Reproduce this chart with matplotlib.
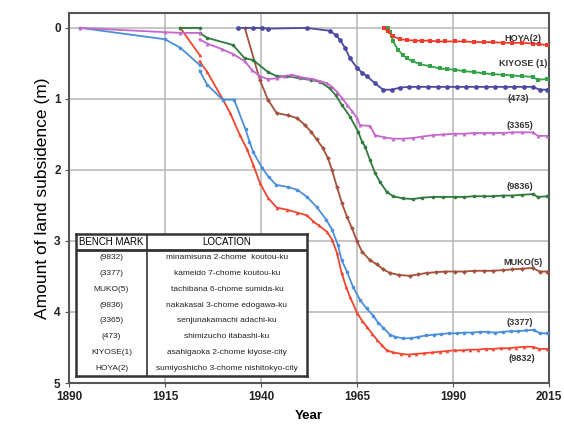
import numpy as np
import matplotlib
matplotlib.use("Agg")
import matplotlib.pyplot as plt

nan = np.nan

# (3377) blue
yr_3377 = [1893, 1915, 1919, 1924, nan, 1924, 1926, 1930, 1933, 1936, 1937, 1938, 1940.3, 1942,
           1944, 1947, 1949.5, 1952, 1954.5, 1957, 1958.5, 1960, 1961, 1962.4, 1964, 1965.8,
           1967.5, 1969.2, 1970.5, 1971.8, 1973.6, 1975, 1977, 1979, 1981, 1983, 1985, 1987,
           1989, 1991, 1993, 1995, 1997, 1999, 2001, 2003, 2005, 2007, 2009, 2011, 2012.6, 2014.5]
d_3377 = [0, 0.16, 0.28, 0.52, nan, 0.60, 0.80, 1.01, 1.01, 1.43, 1.6, 1.75, 1.97, 2.10,
          2.21, 2.24, 2.28, 2.38, 2.52, 2.70, 2.84, 3.05, 3.27, 3.43, 3.65, 3.83,
          3.95, 4.05, 4.15, 4.22, 4.32, 4.35, 4.37, 4.37, 4.35, 4.33, 4.32, 4.31,
          4.30, 4.30, 4.29, 4.29, 4.28, 4.28, 4.29, 4.28, 4.27, 4.27, 4.26, 4.25, 4.30, 4.30]

# (9832) red
yr_9832 = [1919, 1924, nan, 1924, 1926, 1930, 1932, 1934.5, 1936.3, 1938, 1939.7, 1941.8, 1944.1,
           1946.8, 1949.4, 1952, 1953.5, 1955, 1957.2, 1958.5, 1959.8, 1961, 1962.2, 1963.2, 1965,
           1966.3, 1967.6, 1969, 1970.2, 1971.5, 1972.8, 1974.5, 1976.5, 1978.5, 1980.5, 1982.5,
           1984.5, 1986.5, 1988.5, 1990.5, 1992.5, 1994.5, 1996.5, 1998.5, 2000.5, 2002.5, 2004.5,
           2006.5, 2008.5, 2010.8, 2012.5, 2014.5]
d_9832 = [0, 0.38, nan, 0.47, 0.62, 1.0, 1.2, 1.51, 1.70, 1.93, 2.18, 2.39, 2.53,
          2.56, 2.60, 2.64, 2.72, 2.78, 2.87, 2.98, 3.17, 3.45, 3.65, 3.79, 4.01,
          4.12, 4.21, 4.31, 4.39, 4.47, 4.54, 4.57, 4.59, 4.60, 4.59, 4.58,
          4.57, 4.56, 4.55, 4.54, 4.54, 4.53, 4.53, 4.52, 4.52, 4.51, 4.51,
          4.50, 4.49, 4.49, 4.52, 4.52]

# MUKO(5) brown
yr_muko = [1935.8, 1939.7, 1941.8, 1944.1, 1947, 1949.4, 1951.5, 1953, 1954.5, 1956.1, 1957.4,
           1958.5, 1959.8, 1961.1, 1962.4, 1963.7, 1965, 1966.3, 1968.4, 1970.2, 1971.8, 1973.6,
           1976, 1978.8, 1981, 1983.2, 1985.5, 1988, 1990.5, 1993, 1995.5, 1998, 2000.4, 2003,
           2005.5, 2008, 2010.8, 2012.6, 2014.5]
d_muko = [0, 0.73, 1.01, 1.2, 1.23, 1.27, 1.37, 1.46, 1.57, 1.69, 1.83,
          2.0, 2.24, 2.47, 2.66, 2.82, 3.0, 3.15, 3.27, 3.33, 3.40, 3.45,
          3.48, 3.49, 3.47, 3.45, 3.44, 3.43, 3.43, 3.43, 3.42, 3.42, 3.42, 3.41,
          3.40, 3.39, 3.38, 3.43, 3.43]

# (473) navy
yr_473 = [1934, 1938, 1940.3, 1941.8, 1951.9, 1957.9, 1959.5, 1960.6, 1961.9, 1963.2, 1965, 1966.3,
          1967.6, 1969.7, 1971.8, 1974.1, 1976.2, 1978.5, 1981, 1983.5, 1986, 1988.5, 1991,
          1993.5, 1996, 1998.5, 2001, 2003.5, 2006, 2008.5, 2010.8, 2012.6, 2014.5]
d_473 = [0, 0, 0, 0.01, 0, 0.04, 0.1, 0.17, 0.28, 0.43, 0.56, 0.63,
         0.68, 0.78, 0.87, 0.87, 0.84, 0.83, 0.83, 0.83, 0.83, 0.83, 0.83,
         0.83, 0.83, 0.83, 0.83, 0.83, 0.83, 0.83, 0.83, 0.87, 0.87]

# (9836) dark green
yr_9836 = [1919, 1924, nan, 1924, 1926, 1932.7, 1935.8, 1937.9, 1941.8, 1944.1, 1946.8, 1950.2,
           1953, 1955.4, 1957.9, 1959.5, 1961, 1963.2, 1965.3, 1966.3, 1967.1, 1968.4, 1969.7,
           1971, 1972.8, 1974.4, 1977, 1979.6, 1982, 1984.8, 1987.5, 1990.5, 1993, 1995.5, 1998,
           2000.4, 2003, 2005.5, 2008, 2010.8, 2012.1, 2014.5]
d_9836 = [0, 0, nan, 0.07, 0.14, 0.24, 0.43, 0.45, 0.62, 0.68, 0.68, 0.71,
          0.73, 0.76, 0.85, 0.95, 1.08, 1.25, 1.46, 1.6, 1.67, 1.86, 2.04,
          2.17, 2.31, 2.37, 2.40, 2.41, 2.39, 2.38, 2.38, 2.38, 2.38, 2.37, 2.37,
          2.37, 2.36, 2.36, 2.35, 2.34, 2.38, 2.37]

# (3365) magenta
yr_3365 = [1893, 1915, 1919, 1924, nan, 1924, 1926, 1929.9, 1932.8, 1935.8, 1937.6, 1939.7, 1941.8,
           1944.1, 1946, 1948.1, 1950.2, 1952, 1953.5, 1955.4, 1957.2, 1958.5, 1959.8, 1961,
           1962.4, 1963.7, 1965, 1965.8, 1968.4, 1969.7, 1972, 1974.4, 1977, 1979.6, 1982, 1984.8,
           1987.5, 1990.5, 1993, 1995.5, 1998, 2000.4, 2003, 2005.5, 2008, 2010.8, 2012.1, 2014.5]
d_3365 = [0, 0.06, 0.07, 0.07, nan, 0.16, 0.22, 0.30, 0.37, 0.47, 0.59, 0.68, 0.72,
          0.71, 0.68, 0.66, 0.69, 0.71, 0.72, 0.75, 0.78, 0.83, 0.9, 0.98,
          1.08, 1.17, 1.27, 1.37, 1.38, 1.51, 1.54, 1.56, 1.56, 1.55, 1.53, 1.51,
          1.50, 1.49, 1.49, 1.48, 1.48, 1.48, 1.48, 1.47, 1.47, 1.47, 1.52, 1.52]

# HOYA(2)
yr_hoya = [1972, 1973.1, 1974.4, 1976.2, 1978, 1980, 1982, 1984, 1986, 1988, 1990.5, 1993, 1995.5,
           1998, 2000.4, 2003, 2005.5, 2008, 2010.8, 2012.5, 2014.5]
d_hoya = [0, 0.05, 0.12, 0.16, 0.17, 0.18, 0.18, 0.18, 0.19, 0.19, 0.19, 0.19, 0.20,
          0.20, 0.20, 0.21, 0.21, 0.21, 0.22, 0.23, 0.24]

# KIYOSE(1)
yr_kiyose = [1973.1, 1973.6, 1974.1, 1974.4, 1975.7, 1977, 1978, 1979.5, 1981.4, 1984, 1986.6,
             1988.5, 1990.5, 1993, 1995.5, 1998, 2000.4, 2003, 2005.5, 2008, 2010.8, 2012.1, 2014.5]
d_kiyose = [0, 0.06, 0.12, 0.19, 0.31, 0.38, 0.43, 0.47, 0.51, 0.54, 0.57,
            0.58, 0.59, 0.61, 0.62, 0.64, 0.65, 0.66, 0.67, 0.68, 0.69, 0.73, 0.72]

bench_marks = ["(9832)", "(3377)", "MUKO(5)", "(9836)", "(3365)", "(473)", "KIYOSE(1)", "HOYA(2)"]
locations = ["minamisuna 2-chome  koutou-ku", "kameido 7-chome koutou-ku",
             "tachibana 6-chome sumida-ku", "nakakasai 3-chome edogawa-ku",
             "senjunakamachi adachi-ku", "shimizucho itabashi-ku",
             "asahigaoka 2-chome kiyose-city", "sumiyoshicho 3-chome nishitokyo-city"]

# label text, label position (year, depth)
end_labels = [("HOYA(2)", 2008.2, 0.15), ("KIYOSE (1)", 2008.2, 0.50), ("(473)", 2006.9, 1.0),
              ("(3365)", 2007.4, 1.38), ("(9836)", 2007.4, 2.24), ("MUKO(5)", 2008.2, 3.30),
              ("(3377)", 2007.4, 4.15), ("(9832)", 2007.9, 4.65)]

series = [
    (yr_9832, d_9832, "#f2452f", "^", 2.6),
    (yr_3377, d_3377, "#4a8fdc", "o", 2.6),
    (yr_muko, d_muko, "#a5503a", "D", 2.4),
    (yr_9836, d_9836, "#2f7a3c", "o", 2.6),
    (yr_3365, d_3365, "#c566cc", "^", 2.8),
    (yr_473, d_473, "#4b4aa3", "o", 3.4),
    (yr_kiyose, d_kiyose, "#33a348", "s", 2.2),
    (yr_hoya, d_hoya, "#f23a2a", "s", 2.2),
]

plt.rcParams["font.family"] = ["Liberation Sans", "DejaVu Sans"]

fig = plt.figure(figsize=(5.64, 4.25), dpi=100)
ax = fig.add_axes([0.1223, 0.0988, 0.851, 0.8706])

for yrs, ds, col, mk, ms in series:
    ax.plot(yrs, ds, color=col, lw=1.3, marker=mk, ms=ms, mew=0, zorder=3)

ax.set_xlim(1890, 2015)
ax.set_ylim(5, -0.21)
ax.set_xticks([1890, 1915, 1940, 1965, 1990, 2015])
ax.set_yticks([0, 1, 2, 3, 4, 5])
ax.grid(True, color="#b5b5b5", lw=1.1)
ax.set_axisbelow(True)
for sp in ax.spines.values():
    sp.set_color("#555555")
    sp.set_linewidth(1.5)
ax.tick_params(length=3, color="#555555", labelsize=8.5, pad=3)
for lab in ax.get_xticklabels() + ax.get_yticklabels():
    lab.set_fontweight("bold")
    lab.set_color("#222222")
ax.set_xlabel("Year", fontsize=9.5, fontweight="bold", labelpad=5)
ax.set_ylabel("Amount of land subsidence (m)", fontsize=12.5, labelpad=3)

for txt, x, y in end_labels:
    ax.text(x, y, txt, fontsize=6.6, fontweight="bold", color="#333333",
            ha="center", va="center", zorder=4)

# bench mark table
tax = fig.add_axes([0.1348, 0.1153, 0.4096, 0.334])
tax.set_xlim(0, 1)
tax.set_ylim(0, 1)
tax.set_xticks([])
tax.set_yticks([])
tax.set_facecolor("white")
for sp in tax.spines.values():
    sp.set_linewidth(1.8)
    sp.set_color("#333333")
col_x = 0.307
head_y = 0.887
tax.plot([col_x, col_x], [0, 1], color="#333333", lw=1.2)
tax.plot([0, 1], [head_y, head_y], color="#333333", lw=2.0)
tax.text(col_x / 2, (1 + head_y) / 2, "BENCH MARK", fontsize=7, ha="center", va="center")
tax.text((1 + col_x) / 2, (1 + head_y) / 2, "LOCATION", fontsize=7, ha="center", va="center")
row_h = head_y / len(bench_marks)
for i, (bm, loc) in enumerate(zip(bench_marks, locations)):
    yc = head_y - (i + 0.5) * row_h
    tax.text(col_x / 2, yc, bm, fontsize=6, ha="center", va="center", color="#222222")
    tax.text((1 + col_x) / 2, yc, loc, fontsize=6, ha="center", va="center", color="#222222")

fig.savefig("out.png", dpi=100)
